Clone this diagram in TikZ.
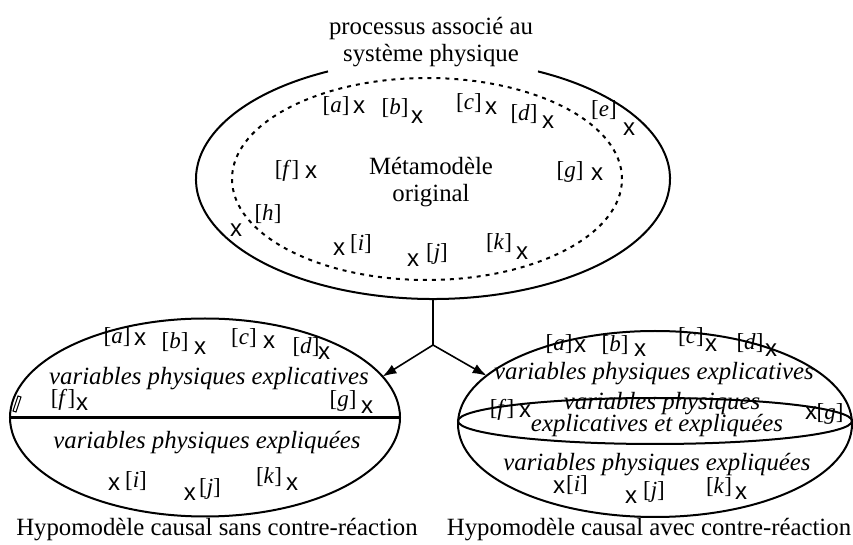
\documentclass[tikz,border=0pt]{standalone}
\usepackage{fontspec}
\setmainfont{Liberation Serif}
\newfontfamily\xfont{Liberation Sans}
\usetikzlibrary{shapes.geometric,arrows.meta}
\newcommand\bkt[1]{[\textit{#1}]}
\begin{document}
\begin{tikzpicture}[x=0.5pt,y=-0.5pt,
  ell/.style={shape=ellipse,inner sep=0,outer sep=0},
  solidline/.style={line width=1pt},
  dotline/.style={line width=1pt,dash pattern=on 2pt off 2.5pt},
  conn/.style={line width=0.8pt},
  arr/.style={conn,-{Latex[length=7pt,width=5pt]}},
  tx/.style={font=\fontsize{12.4}{13.5}\selectfont,inner sep=0,align=center},
  itx/.style={tx,font=\fontsize{12.4}{13.5}\selectfont\itshape},
  bk/.style={font=\fontsize{11.5}{12}\selectfont,inner sep=0},
  xm/.style={font=\xfont\fontsize{12}{12}\selectfont,inner sep=0}]
\useasboundingbox (0,0) rectangle (853,545);

% ---- top ellipse ----
\node[ell,minimum width=237pt,minimum height=120pt] (meta) at (433,179) {};
\draw[solidline] ([shift={(116.3:118.5pt and 60pt)}]meta.center)
  arc[start angle=116.3,end angle=423.7,x radius=118.5pt,y radius=60pt];
\node[ell,draw,dotline,minimum width=195pt,minimum height=101pt] (inner) at (427,179) {};
\node[tx] (title) at (431,42) {processus associé au\\système physique};
\node[tx] (mm) at (431,182) {Métamodèle\\original};

\node[bk] (ta) at (336,106) {\bkt{a}}; \node[xm] (txa) at (359,107) {x};
\node[bk] (tb) at (395,108) {\bkt{b}}; \node[xm] (txb) at (417,117) {x};
\node[bk] (tc) at (469,103) {\bkt{c}}; \node[xm] (txc) at (491,108) {x};
\node[bk] (td) at (524,114) {\bkt{d}}; \node[xm] (txd) at (548,122) {x};
\node[bk] (te) at (604,110) {\bkt{e}}; \node[xm] (txe) at (629,129) {x};
\node[bk] (tf) at (287,171) {\bkt{f}}; \node[xm] (txf) at (311,172) {x};
\node[bk] (tg) at (570,172) {\bkt{g}}; \node[xm] (txg) at (597,174) {x};
\node[bk] (th) at (268,214) {\bkt{h}}; \node[xm] (txh) at (236,230) {x};
\node[xm] (txi) at (339,249) {x}; \node[bk] (ti) at (361,244) {\bkt{i}};
\node[xm] (txj) at (413,260) {x}; \node[bk] (tj) at (437,254) {\bkt{j}};
\node[bk] (tk) at (499,243) {\bkt{k}}; \node[xm] (txk) at (522,253) {x};

% ---- left ellipse ----
\node[ell,draw,solidline,minimum width=195pt,minimum height=99pt] (L) at (205,417.5) {};
\draw[line width=1.4pt] (L.west) -- (L.east);
\draw[line width=0.5pt] (13,411) -- (18,396) -- (21,397) -- (16,412) -- cycle;
\node[bk] (la) at (117,337) {\bkt{a}}; \node[xm] (lxa) at (140,339) {x};
\node[bk] (lb) at (175,342) {\bkt{b}}; \node[xm] (lxb) at (200,348) {x};
\node[bk] (lc) at (244,338) {\bkt{c}}; \node[xm] (lxc) at (269,342) {x};
\node[bk] (ld) at (306,347) {\bkt{d}}; \node[xm] (lxd) at (324,353) {x};
\node[itx] (lt1) at (209,379) {variables physiques explicatives};
\node[bk] (lf) at (63,400) {\bkt{f}}; \node[xm] (lxf) at (82,404) {x};
\node[bk] (lg) at (343,401) {\bkt{g}}; \node[xm] (lxg) at (367,407) {x};
\node[itx] (lt2) at (207,443) {variables physiques expliquées};
\node[xm] (lxi) at (114,484) {x}; \node[bk] (li) at (136,481) {\bkt{i}};
\node[xm] (lxj) at (190,494) {x}; \node[bk] (lj) at (210,489) {\bkt{j}};
\node[bk] (lk) at (269,477) {\bkt{k}}; \node[xm] (lxk) at (292,484) {x};
\node[tx] (lcap) at (217,530) {Hypomodèle causal sans contre-réaction};

% ---- right ellipse ----
\node[ell,draw,solidline,minimum width=197pt,minimum height=93pt] (R) at (655,424) {};
\node[ell,draw,solidline,minimum width=197pt,minimum height=23pt] (lens) at (655,421) {};
\node[bk] (ra) at (559,344) {\bkt{a}}; \node[xm] (rxa) at (580,346) {x};
\node[bk] (rb) at (615,345) {\bkt{b}}; \node[xm] (rxb) at (640,350) {x};
\node[bk] (rc) at (691,337) {\bkt{c}}; \node[xm] (rxc) at (711,345) {x};
\node[bk] (rd) at (750,343) {\bkt{d}}; \node[xm] (rxd) at (771,350) {x};
\node[itx] (rt1) at (654,374) {variables physiques explicatives};
\node[bk] (rf) at (502,410) {\bkt{f}}; \node[xm] (rxf) at (525,411) {x};
\node[itx] (rt2) at (662,404) {variables physiques};
\node[itx] (rt3) at (657,426) {explicatives et expliquées};
\node[xm] (rxg) at (811,413) {x}; \node[bk] (rg) at (830,414) {\bkt{g}};
\node[itx] (rt4) at (657,465) {variables physiques expliquées};
\node[xm] (rxi) at (559,487) {x}; \node[bk] (ri) at (577,485) {\bkt{i}};
\node[xm] (rxj) at (631,497) {x}; \node[bk] (rj) at (654,492) {\bkt{j}};
\node[bk] (rk) at (719,487) {\bkt{k}}; \node[xm] (rxk) at (741,493) {x};
\node[tx] (rcap) at (649,530) {Hypomodèle causal avec contre-réaction};

% ---- connectors ----
\coordinate (split) at (433,345);
\draw[conn] (meta.south) -- (split);
\draw[arr] (split) -- (L.13);
\draw[arr] (split) -- (R.164);
\end{tikzpicture}
\end{document}
